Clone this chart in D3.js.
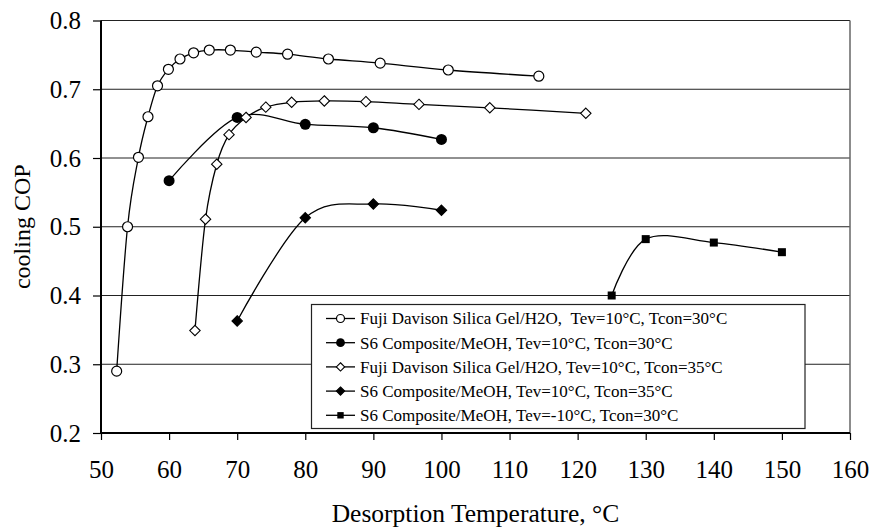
<!DOCTYPE html>
<html>
<head>
<meta charset="utf-8">
<script src="https://cdn.jsdelivr.net/npm/d3@7"></script>
<style>
  #chart text { font-family: 'Liberation Serif' !important; }
</style>
</head>
<body style="margin:0">
<svg id="chart" width="872" height="528"></svg>
<script>
// Desorption temperature (°C) and cooling COP for each working pair
const fujiT30X = [52.3, 53.9, 55.5, 56.9, 58.3, 59.9, 61.6, 63.6, 65.9, 69.0, 72.8, 77.4, 83.4, 91.0, 101.0, 114.3];
const fujiT30Y = [0.290, 0.500, 0.601, 0.660, 0.705, 0.729, 0.744, 0.753, 0.757, 0.757, 0.754, 0.751, 0.744, 0.738, 0.728, 0.719];

const s6T30X = [60, 70, 80, 90, 100];
const s6T30Y = [0.567, 0.659, 0.649, 0.644, 0.627];

const fujiT35X = [63.8, 65.35, 67.0, 68.8, 71.3, 74.2, 78.0, 82.8, 88.9, 96.7, 107.1, 121.2];
const fujiT35Y = [0.349, 0.511, 0.591, 0.634, 0.659, 0.674, 0.681, 0.683, 0.682, 0.678, 0.673, 0.665];

const s6T35X = [70, 80, 90, 100];
const s6T35Y = [0.363, 0.513, 0.533, 0.524];

const s6Tm10X = [125, 130, 140, 150];
const s6Tm10Y = [0.400, 0.482, 0.477, 0.463];

const seriesNames = [
  "Fuji Davison Silica Gel/H2O,\u00a0\u00a0Tev=10°C, Tcon=30°C",
  "S6 Composite/MeOH, Tev=10°C, Tcon=30°C",
  "Fuji Davison Silica Gel/H2O, Tev=10°C, Tcon=35°C",
  "S6 Composite/MeOH, Tev=10°C, Tcon=35°C",
  "S6 Composite/MeOH, Tev=-10°C, Tcon=30°C"
];
const seriesMarkers = ["circleOpen", "circleFilled", "diamondOpen", "diamondFilled", "square"];

const xTicks = [50, 60, 70, 80, 90, 100, 110, 120, 130, 140, 150, 160];
const yTicks = [0.2, 0.3, 0.4, 0.5, 0.6, 0.7, 0.8];

const xTitle = "Desorption Temperature, °C";
const yTitle = "cooling COP";

const seriesXY = [
  [fujiT30X, fujiT30Y],
  [s6T30X, s6T30Y],
  [fujiT35X, fujiT35Y],
  [s6T35X, s6T35Y],
  [s6Tm10X, s6Tm10Y]
];

const fontStyle = px => `font-family: 'Liberation Serif'; font-size: ${px}px;`;
const svg = d3.select("#chart");

const x = d3.scaleLinear().domain([50, 160]).range([101, 850]);
const y = d3.scaleLinear().domain([0.2, 0.8]).range([433, 20.5]);

// horizontal gridlines
svg.append("g")
  .selectAll("line")
  .data(yTicks.slice(1))
  .join("line")
  .attr("x1", x(50)).attr("x2", x(160))
  .attr("y1", d => y(d)).attr("y2", d => y(d))
  .attr("stroke", "#222").attr("stroke-width", 1);

// right border of plot area
svg.append("line")
  .attr("x1", x(160)).attr("x2", x(160))
  .attr("y1", y(0.8)).attr("y2", y(0.2))
  .attr("stroke", "#666").attr("stroke-width", 1.5);

// axes
const xAxis = d3.axisBottom(x).tickValues(xTicks).tickSize(7).tickPadding(20).tickFormat(d3.format("d"));
const yAxis = d3.axisLeft(y).tickValues(yTicks).tickSize(8).tickPadding(12).tickFormat(d3.format(".1f"));

const gx = svg.append("g").attr("transform", `translate(0,${y(0.2)})`).call(xAxis);
const gy = svg.append("g").attr("transform", `translate(${x(50)},0)`).call(yAxis);
[gx, gy].forEach(g => {
  g.attr("font-family", "Liberation Serif").attr("font-size", 25);
  g.select(".domain").attr("stroke", "#000").attr("stroke-width", 2);
  g.selectAll(".tick line").attr("stroke", "#000").attr("stroke-width", 1.2);
  g.selectAll(".tick text")
    .attr("fill", "#000")
    .attr("style", fontStyle(25));
});
gx.select(".domain").attr("d", `M${x(50)},0H${x(160)}`);
gy.select(".domain").attr("d", `M0,${y(0.2)}V${y(0.8)}`);

// axis titles
svg.append("text")
  .attr("x", (x(50) + x(160)) / 2).attr("y", 522)
  .attr("text-anchor", "middle")
  .attr("style", fontStyle(25.5))
  .text(xTitle);
svg.append("text")
  .attr("transform", `translate(30,${(y(0.2) + y(0.8)) / 2}) rotate(-90)`)
  .attr("text-anchor", "middle")
  .attr("style", fontStyle(24))
  .text(yTitle);

// smoothed series lines
const line = d3.line()
  .x(d => x(d[0])).y(d => y(d[1]))
  .curve(d3.curveCatmullRom.alpha(0));

const plot = svg.append("g");
seriesXY.forEach(([xs, ys]) => {
  const pts = xs.map((v, k) => [v, ys[k]]);
  plot.append("path")
    .datum(pts)
    .attr("d", line)
    .attr("fill", "none")
    .attr("stroke", "#000")
    .attr("stroke-width", 1.3);
});

function drawMarker(g, type, cx, cy, s) {
  if (type === "circleOpen") {
    g.append("circle").attr("cx", cx).attr("cy", cy).attr("r", 5 * s)
      .attr("fill", "#fff").attr("stroke", "#000").attr("stroke-width", 1.2);
  } else if (type === "circleFilled") {
    g.append("circle").attr("cx", cx).attr("cy", cy).attr("r", 5.5 * s)
      .attr("fill", "#000");
  } else if (type === "diamondOpen" || type === "diamondFilled") {
    const r = 5.2 * s;
    g.append("path")
      .attr("d", `M${cx},${cy - r}L${cx + r},${cy}L${cx},${cy + r}L${cx - r},${cy}Z`)
      .attr("fill", type === "diamondOpen" ? "#fff" : "#000")
      .attr("stroke", "#000").attr("stroke-width", 1.1);
  } else if (type === "square") {
    const h = 4 * s;
    g.append("rect").attr("x", cx - h).attr("y", cy - h).attr("width", 2 * h).attr("height", 2 * h)
      .attr("fill", "#000");
  }
}

seriesXY.forEach(([xs, ys], i) => {
  const g = plot.append("g");
  xs.forEach((v, k) => drawMarker(g, seriesMarkers[i], x(v), y(ys[k]), 1));
});

// legend
const lg = svg.append("g");
lg.append("rect").attr("x", 311.5).attr("y", 304.5).attr("width", 493.5).attr("height", 124)
  .attr("fill", "#fff").attr("stroke", "#222").attr("stroke-width", 1.2);
seriesNames.forEach((name, i) => {
  const cy = 318.5 + i * 24.2;
  lg.append("line").attr("x1", 326).attr("x2", 355).attr("y1", cy).attr("y2", cy)
    .attr("stroke", "#000").attr("stroke-width", 1.3);
  drawMarker(lg, seriesMarkers[i], 340.5, cy, 0.8);
  lg.append("text").attr("x", 360).attr("y", cy + 5.8)
    .attr("style", fontStyle(17))
    .text(name);
});
</script>
</body>
</html>
